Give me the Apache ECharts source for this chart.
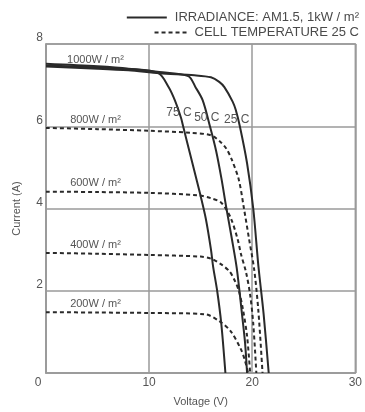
<!DOCTYPE html>
<html>
<head>
<meta charset="utf-8">
<script src="https://cdn.jsdelivr.net/npm/echarts@6/dist/echarts.min.js"></script>
<style>
html,body{margin:0;padding:0;background:#fff;}
#main{width:365px;height:412px;}
</style>
</head>
<body>
<div id="main"></div>
<script>
// I-V curves, [voltage, current]
var curve25C=[[0,7.45],[5,7.4],[8,7.36],[11,7.29],[14.4,7.24],[16,7.19],[16.8,7.08],[17.3,6.95],[18.1,6.6],[18.4,6.4],[18.8,6.0],[19.5,5.1],[20.1,4.0],[20.6,2.6],[21.1,1.45],[21.6,0]];
var curve50C=[[0,7.48],[5,7.43],[8,7.39],[11,7.32],[13.8,7.22],[14.5,6.95],[15.2,6.63],[15.9,6.0],[16.5,5.4],[17,4.75],[17.5,4.0],[18,3.3],[18.5,2.55],[19,1.45],[19.3,0.75],[19.5,0]];
var curve75C=[[0,7.52],[5,7.46],[8,7.4],[10.9,7.29],[11.9,6.95],[12.5,6.63],[13.1,6.2],[13.3,6.0],[14,5.3],[14.5,4.8],[15,4.3],[15.5,3.75],[16,3.0],[16.2,2.6],[16.6,2.0],[17,1.2],[17.4,0]];
var curve800=[[0,5.96],[5,5.93],[10,5.89],[14,5.84],[16,5.78],[17,5.6],[17.5,5.45],[18,5.2],[18.7,4.7],[19.2,4.0],[19.7,3.25],[20.2,2.5],[20.6,1.5],[21,0]];
var curve600=[[0,4.41],[5,4.4],[10,4.38],[14.7,4.32],[16,4.25],[17,4.14],[17.9,3.78],[18.6,3.24],[18.9,2.9],[19.4,2.45],[19.8,1.9],[20.1,1.2],[20.4,0]];
var curve400=[[0,2.92],[5,2.9],[10,2.87],[15,2.83],[16,2.78],[17,2.64],[17.8,2.47],[18.3,2.25],[18.7,2.0],[19.1,1.55],[19.5,0.9],[19.8,0]];
var curve200=[[0,1.48],[5,1.47],[10,1.46],[15.4,1.43],[16.8,1.26],[17.9,1.02],[18.9,0.58],[19.3,0.3],[19.6,0]];

var irrLabels=['1000W / m²','800W / m²','600W / m²','400W / m²','200W / m²'];
var irrLabelPos=[[4.8,7.6],[4.8,6.15],[4.8,4.62],[4.8,3.12],[4.8,1.67]];
var tempLabels=['75 C','50 C','25 C'];
var tempLabelPos=[[12.9,6.32],[15.6,6.22],[18.5,6.15]];

var xTicks=[0,10,20,30];
var yTicks=[0,2,4,6,8];

var legendNames=['IRRADIANCE: AM1.5, 1kW / m²','CELL TEMPERATURE 25 C'];

var FONT='"Liberation Sans",Arial,sans-serif';
var GREY='#555';
var LINE='#2a2a2a';

var chart=echarts.init(document.getElementById('main'));

function mark(text,pos,size){
	return {
		symbol:'circle',
		symbolSize:1,
		silent:true,
		itemStyle:{color:'rgba(0,0,0,0)'},
		data:[{coord:pos}],
		label:{show:true,position:'inside',formatter:text,color:GREY,fontSize:size||11,fontFamily:FONT}
	};
}
function curve(name,data,dashed,m){
	var s={
		name:name,
		type:'line',
		data:data,
		smooth:0.3,
		symbol:'none',
		lineStyle:{color:LINE,width:2,type:dashed?[4,3]:'solid'},
		itemStyle:{color:LINE},
		z:dashed?2:3
	};
	if(m) s.markPoint=m;
	return s;
}

var series=[
	curve(legendNames[0],curve25C,false,mark(tempLabels[2],tempLabelPos[2],12)),
	curve('50C',curve50C,false,mark(tempLabels[1],tempLabelPos[1],12)),
	curve('75C',curve75C,false,mark(tempLabels[0],tempLabelPos[0],12)),
	curve(legendNames[1],curve800,true,mark(irrLabels[1],irrLabelPos[1])),
	curve('600',curve600,true,mark(irrLabels[2],irrLabelPos[2])),
	curve('400',curve400,true,mark(irrLabels[3],irrLabelPos[3])),
	curve('200',curve200,true,mark(irrLabels[4],irrLabelPos[4]))
];
// 1000 W/m2 label sits on the top curve
series.push({name:'lbl',type:'line',data:[],markPoint:mark(irrLabels[0],irrLabelPos[0])});

function legendRow(name,top,w){
	return {
		data:[name],
		right:1,
		top:top,
		itemWidth:w,
		itemHeight:10,
		itemGap:0,
		selectedMode:false,
		itemStyle:{opacity:0},
		textStyle:{color:'#4a4a4a',fontSize:13,fontFamily:FONT,padding:[0,0,0,3]}
	};
}

var option={
	animation:false,
	textStyle:{fontFamily:FONT},
	legend:[legendRow(legendNames[0],6,40),legendRow(legendNames[1],21,32)],
	grid:{left:46,right:5,top:44,bottom:38,show:true,borderColor:'#9a9a9a',borderWidth:1.5},
	xAxis:{
		type:'value',
		min:xTicks[0],max:xTicks[xTicks.length-1],interval:10,
		name:'Voltage (V)',nameLocation:'middle',nameGap:23,
		nameTextStyle:{color:GREY,fontSize:11,fontFamily:FONT},
		axisLine:{lineStyle:{color:'#9a9a9a',width:1.5}},
		axisTick:{show:false},
		axisLabel:{color:GREY,fontSize:12,margin:4,
			formatter:function(v){return v===0?'{z|0}':v;},
			rich:{z:{color:GREY,fontSize:12,padding:[0,16,0,0]}}},
		splitLine:{lineStyle:{color:'#9a9a9a',width:1.5}}
	},
	yAxis:{
		type:'value',
		min:yTicks[0],max:yTicks[yTicks.length-1],interval:2,
		name:'Current (A)',nameLocation:'middle',nameGap:24,nameRotate:90,
		nameTextStyle:{color:GREY,fontSize:11,fontFamily:FONT},
		axisLine:{show:true,lineStyle:{color:'#9a9a9a',width:1.5}},
		axisTick:{show:false},
		axisLabel:{color:GREY,fontSize:12,margin:3,verticalAlign:'bottom',
			formatter:function(v){return v===0?'':v;}},
		splitLine:{lineStyle:{color:'#9a9a9a',width:1.5}}
	},
	series:series
};
chart.setOption(option);
</script>
</body>
</html>
